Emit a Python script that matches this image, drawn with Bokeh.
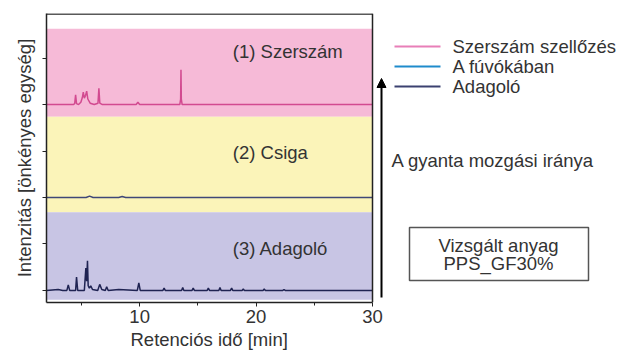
from bokeh.plotting import figure
from bokeh.models import Range1d, FixedTicker, Arrow, NormalHead, Title
from bokeh.embed import file_html
from bokeh.resources import INLINE
from bokeh.core.properties import value

# ---------------- data ----------------
series_names = ["Szerszám szellőzés", "A fúvókában", "Adagoló"]
legend_colors = ["#e87fb8", "#1f8bcc", "#3b4170"]
trace_colors = ["#d24a90", "#3f4777", "#1f2352"]
panel_labels = ["(1) Szerszám", "(2) Csiga", "(3) Adagoló"]
baselines = [4, 2, 0]
band_bottom = [3.74, 1.68, -0.2]
band_top = [5.63, 3.74, 1.68]
band_colors = ["#f6bad7", "#fbf4b9", "#c8c5e4"]
x_ticks = [10, 20, 30]
x_minor_ticks = [5, 15, 25]
y_ticks = [0, 1, 2, 3, 4, 5]

t_szerszam = [2.0, 4.3, 4.42, 4.5, 4.58, 4.75, 4.95, 5.08, 5.16, 5.25, 5.36, 5.45,
              5.55, 5.75, 6.1, 6.42, 6.5, 6.58, 6.8, 9.7, 9.85, 10.0,
              13.45, 13.52, 13.55, 13.58, 13.65, 30.0]
v_szerszam = [0.0, 0.0, 0.02, 0.21, 0.02, 0.0, 0.05, 0.15, 0.27, 0.14, 0.2, 0.29,
              0.12, 0.03, 0.0, 0.03, 0.35, 0.03, 0.0, 0.0, 0.05, 0.0,
              0.0, 0.12, 0.75, 0.12, 0.0, 0.0]

t_csiga = [2.0, 5.4, 5.7, 6.0, 8.2, 8.5, 8.8, 30.0]
v_csiga = [0.0, 0.0, 0.03, 0.0, 0.0, 0.02, 0.0, 0.0]

t_adagolo = [2.0, 3.0, 3.4, 3.75, 3.87, 3.99, 4.5, 4.58, 4.68, 5.25, 5.38, 5.45,
             5.52, 5.58, 5.68, 5.8, 5.95, 6.4, 6.57, 6.75, 7.05, 7.17, 7.3,
             8.2, 9.8, 9.93, 10.05, 12.0, 12.1, 12.2, 13.6, 13.7, 13.8,
             14.5, 14.6, 14.7, 15.8, 15.9, 16.0, 16.8, 16.9, 17.0, 17.8, 17.9,
             18.0, 18.8, 18.9, 19.0, 20.6, 20.7, 20.8, 22.3, 22.4, 22.5, 30.0]
v_adagolo = [0.0, 0.02, 0.0, 0.0, 0.12, 0.0, 0.0, 0.29, 0.0, 0.0, 0.48, 0.2,
             0.64, 0.1, 0.05, 0.1, 0.02, 0.0, 0.13, 0.02, 0.0, 0.08, 0.0,
             0.02, 0.0, 0.16, 0.0, 0.0, 0.05, 0.0, 0.0, 0.06, 0.0,
             0.0, 0.05, 0.0, 0.0, 0.05, 0.0, 0.0, 0.06, 0.0, 0.0, 0.05,
             0.0, 0.0, 0.03, 0.0, 0.0, 0.03, 0.0, 0.0, 0.02, 0.0, 0.0]

traces = [(t_szerszam, v_szerszam), (t_csiga, v_csiga), (t_adagolo, v_adagolo)]

x_label = "Retenciós idő [min]"
y_label = "Intenzitás [önkényes egység]"
arrow_text = "A gyanta mozgási iránya"
box_lines = ["Vizsgált anyag", "PPS_GF30%"]

FONT = "Liberation Sans"
TXT = "#333333"
FS = "18.5px"

# ---------------- layout (page pixels) ----------------
W, H = 622, 352
FL, FR, FT, FB = 46, 372, 13, 302          # chart frame edges
X0, X1 = 2, 30                              # time axis limits
Y0, Y1 = -0.26, 5.96
x_end = X0 + (X1 - X0) * (W - FL) / (FR - FL)   # range extends over right panel

p = figure(width=W, height=H, output_backend="svg", toolbar_location=None,
           x_range=Range1d(X0, x_end), y_range=Range1d(Y0, Y1),
           min_border_left=FL, min_border_right=0, min_border_top=FT,
           min_border_bottom=H - FB)
p.extra_x_ranges = {"px": Range1d(FL, W)}
p.extra_y_ranges = {"py": Range1d(FB, FT)}
p.grid.visible = False
p.outline_line_color = None
p.background_fill_color = "white"

# bands
p.quad(left=X0, right=X1, bottom=band_bottom, top=band_top,
       fill_color=band_colors, line_color=None)

# traces
for (t, v), b, c in zip(traces, baselines, trace_colors):
    p.line(t, [b + vi for vi in v], line_color=c, line_width=1.5)

# chart frame top/right
p.segment(x0=[X0, X1], y0=[Y1 - 0.01, Y0], x1=[X1, X1], y1=[Y1 - 0.01, Y1],
          line_color="#222222", line_width=1.5)

# panel labels
label_x = 18.0
label_y = [5.14, 2.97, 0.9]
p.text(x=[label_x] * 3, y=label_y, text=panel_labels,
       text_font=value(FONT), text_font_size=FS, text_color=TXT,
       text_baseline="middle", text_align="left")

# axes
p.xaxis.ticker = FixedTicker(ticks=x_ticks, minor_ticks=x_minor_ticks)
p.xaxis.bounds = (X0, X1)
p.yaxis.ticker = FixedTicker(ticks=y_ticks, minor_ticks=[])
for ax in (p.xaxis[0], p.yaxis[0]):
    ax.axis_line_color = "#222222"
    ax.axis_line_width = 1.5
    ax.major_tick_line_color = "#222222"
    ax.major_tick_in = 0
    ax.major_tick_out = 4
    ax.minor_tick_line_color = "#222222"
    ax.minor_tick_in = 0
    ax.minor_tick_out = 3
    ax.major_label_text_font = FONT
    ax.major_label_text_font_size = FS
    ax.major_label_text_color = TXT
    ax.axis_label_text_font = FONT
    ax.axis_label_text_font_size = FS
    ax.axis_label_text_font_style = "normal"
    ax.axis_label_text_color = TXT
p.xaxis.major_label_standoff = 3
p.yaxis.axis_label = y_label
p.yaxis.major_label_overrides = {t: "" for t in y_ticks}
p.yaxis.major_label_standoff = 0
p.yaxis.axis_label_standoff = 8

# x-axis title, centred under the chart part of the frame (~157 px wide text)
p.add_layout(Title(text=x_label, align="left", offset=84, standoff=2,
                   text_font=FONT, text_font_size=FS, text_font_style="normal",
                   text_color=TXT), "below")

# ---------------- right panel (page-pixel coordinates) ----------------
leg_y = [46, 66, 86]
p.segment(x0=[394] * 3, x1=[440] * 3, y0=leg_y, y1=leg_y,
          line_color=legend_colors, line_width=2,
          x_range_name="px", y_range_name="py")
p.text(x=[452] * 3, y=leg_y, text=series_names, text_font=value(FONT),
       text_font_size=FS, text_color=TXT, text_baseline="middle",
       text_align="left", x_range_name="px", y_range_name="py")

p.add_layout(Arrow(end=NormalHead(size=9, fill_color="black", line_color="black"),
                   x_start=381, y_start=297, x_end=381, y_end=78,
                   line_color="black", line_width=2,
                   x_range_name="px", y_range_name="py"))
p.text(x=[391], y=[160], text=[arrow_text], text_font=value(FONT),
       text_font_size=FS, text_color=TXT, text_baseline="middle",
       text_align="left", x_range_name="px", y_range_name="py")

p.quad(left=409, right=588, top=227, bottom=280, fill_color=None,
       line_color="#555555", line_width=1.5,
       x_range_name="px", y_range_name="py")
p.text(x=[498, 498], y=[245, 263], text=box_lines, text_font=value(FONT),
       text_font_size=FS, text_color=TXT, text_align="center",
       text_baseline="middle", x_range_name="px", y_range_name="py")

open("out.html", "w").write(file_html(p, INLINE))
